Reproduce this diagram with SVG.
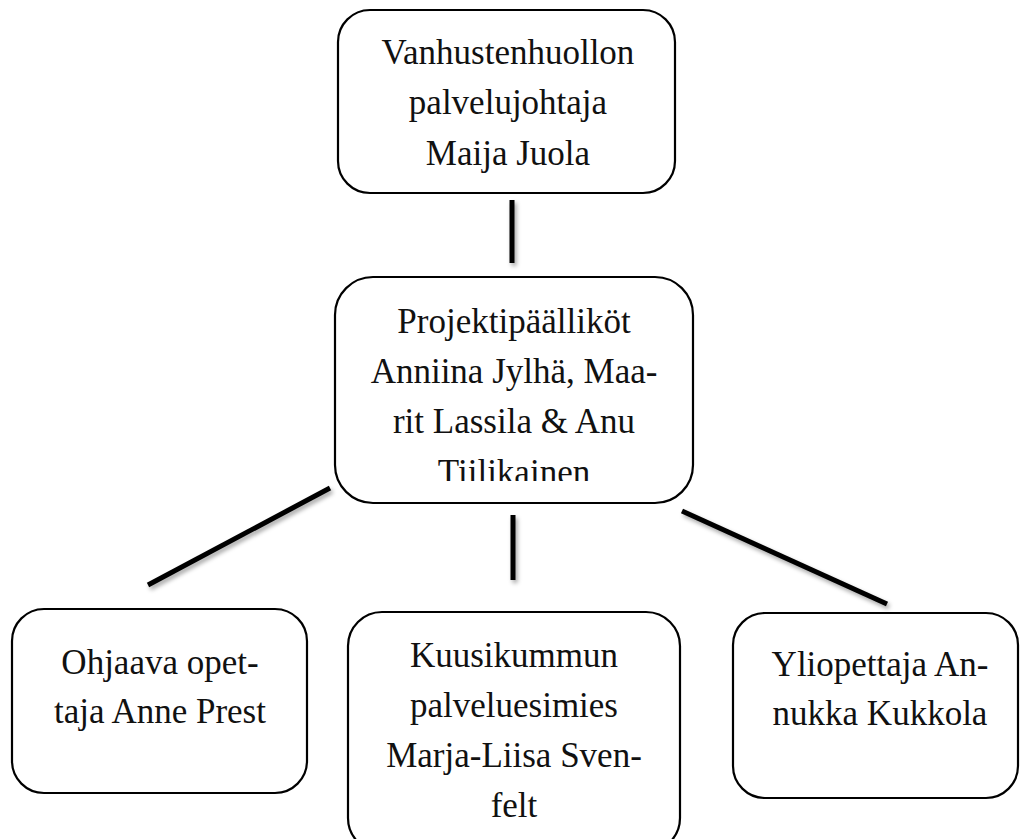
<svg xmlns="http://www.w3.org/2000/svg" width="1021" height="839" viewBox="0 0 1021 839">
  <style>
    .box { fill: #ffffff; stroke: #000000; stroke-width: 2.2; }
    .lbl { font-family: "Liberation Serif", "DejaVu Serif", serif; font-size: 35px; fill: #111111; text-anchor: middle; }
    .conn { stroke: #000000; stroke-width: 5; stroke-linecap: butt; fill: none; }
  </style>
  <defs>
    <filter id="shadow" x="-20%" y="-20%" width="140%" height="140%">
      <feDropShadow dx="2" dy="3" stdDeviation="2" flood-color="#000000" flood-opacity="0.35"/>
    </filter>
    <clipPath id="clipMid">
      <rect x="335" y="277" width="358" height="204"/>
    </clipPath>
  </defs>
  <rect width="1021" height="839" fill="#ffffff"/>

  <g id="connectors" filter="url(#shadow)">
    <line class="conn" x1="512" y1="200" x2="512" y2="263"/>
    <line class="conn" x1="513" y1="515" x2="513" y2="580"/>
    <line class="conn" x1="330" y1="488" x2="148" y2="585"/>
    <line class="conn" x1="682" y1="511" x2="887" y2="604"/>
  </g>

  <g id="node-director">
    <rect class="box" x="338" y="10" width="337" height="183" rx="32" ry="32"/>
    <text class="lbl" x="508" y="64">Vanhustenhuollon</text>
    <text class="lbl" x="508" y="114">palvelujohtaja</text>
    <text class="lbl" x="508" y="165">Maija Juola</text>
  </g>

  <g id="node-managers">
    <rect class="box" x="335" y="277" width="358" height="226" rx="38" ry="38"/>
    <g clip-path="url(#clipMid)">
      <text class="lbl" x="514" y="333">Projektipäälliköt</text>
      <text class="lbl" x="514" y="383">Anniina Jylhä, Maa-</text>
      <text class="lbl" x="514" y="433">rit Lassila &amp; Anu</text>
      <text class="lbl" x="514" y="484">Tiilikainen</text>
    </g>
  </g>

  <g id="node-teacher">
    <rect class="box" x="12" y="609" width="295" height="184" rx="32" ry="32"/>
    <text class="lbl" x="160" y="674">Ohjaava opet-</text>
    <text class="lbl" x="160" y="723">taja Anne Prest</text>
  </g>

  <g id="node-supervisor">
    <rect class="box" x="348" y="612" width="332" height="240" rx="34" ry="34"/>
    <text class="lbl" x="514" y="667">Kuusikummun</text>
    <text class="lbl" x="514" y="717">palveluesimies</text>
    <text class="lbl" x="514" y="767">Marja-Liisa Sven-</text>
    <text class="lbl" x="514" y="817">felt</text>
  </g>

  <g id="node-lecturer">
    <rect class="box" x="733" y="613" width="285" height="185" rx="32" ry="32"/>
    <text class="lbl" x="880" y="676">Yliopettaja An-</text>
    <text class="lbl" x="880" y="725">nukka Kukkola</text>
  </g>
</svg>
